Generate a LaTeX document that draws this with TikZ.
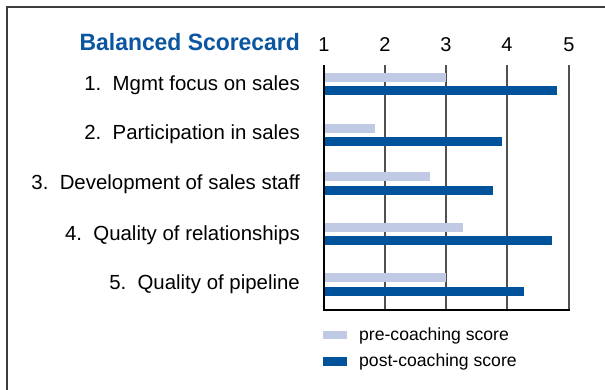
\documentclass[tikz,border=0pt]{standalone}
\usepackage{fontspec}
\setmainfont{Liberation Sans}
\newfontfamily\titlefont{Liberation Sans}[FakeStretch=0.97]
\definecolor{prebar}{HTML}{C0CAE4}
\definecolor{postbar}{HTML}{00529B}
\definecolor{titleblue}{HTML}{0A56A0}
\definecolor{framegray}{HTML}{3C3C3C}
\definecolor{gridgray}{HTML}{505050}
\begin{document}
\begin{tikzpicture}[x=1pt,y=-1pt,
  lbl/.style={anchor=east,inner sep=0pt,font=\fontsize{20.4}{22}\selectfont},
  tick/.style={inner sep=0pt,font=\fontsize{20}{22}\selectfont},
  pre/.style={fill=prebar},
  post/.style={fill=postbar},
  grid/.style={gridgray,line width=1.2pt},
  leg/.style={anchor=west,inner sep=0pt,font=\fontsize{17.6}{19}\selectfont}]
\useasboundingbox (0,0) rectangle (605,389);
\fill[white] (0,0) rectangle (605,389);
% frame
\draw[framegray,line width=1.8pt] (7,400) -- (7,7) -- (620,7);
% title
\node[anchor=east,inner sep=0pt,text=titleblue,font=\titlefont\fontsize{23.6}{25}\selectfont\bfseries] (title) at (300,42.5) {Balanced Scorecard};
% tick labels
\foreach \v/\x in {1/324,2/385,3/446,4/507,5/569}{
  \node[tick] (t\v) at (\x,44.5) {\v};
}
% grid lines
\foreach \x in {385,446,507,569}{
  \draw[grid] (\x,65) -- (\x,310);
}
% bars (value v -> x = 324 + 61.25*(v-1))
\fill[pre]  (325,73)  rectangle (446,82);
\fill[post] (325,86)  rectangle (557,95);
\fill[pre]  (325,124) rectangle (375,133);
\fill[post] (325,137) rectangle (502,146);
\fill[pre]  (325,172) rectangle (430,181);
\fill[post] (325,186) rectangle (493,195);
\fill[pre]  (325,223) rectangle (463,232);
\fill[post] (325,236) rectangle (552,245);
\fill[pre]  (325,273) rectangle (446,282);
\fill[post] (325,287) rectangle (524,296);
% axes
\draw[black,line width=1.5pt] (324,65) -- (324,310) -- (569.6,310);
% category labels
\node[lbl] (c1) at (300,85)  {1.\ \ Mgmt focus on sales};
\node[lbl] (c2) at (300,134) {2.\ \ Participation in sales};
\node[lbl] (c3) at (300,184) {3.\ \ Development of sales staff};
\node[lbl] (c4) at (300,235) {4.\ \ Quality of relationships};
\node[lbl] (c5) at (300,284) {5.\ \ Quality of pipeline};
% legend
\fill[pre]  (323,331) rectangle (347,339);
\fill[post] (323,357) rectangle (347,366);
\node[leg] (l1) at (359,335.5) {pre-coaching score};
\node[leg] (l2) at (359,361.5) {post-coaching score};
\end{tikzpicture}
\end{document}
